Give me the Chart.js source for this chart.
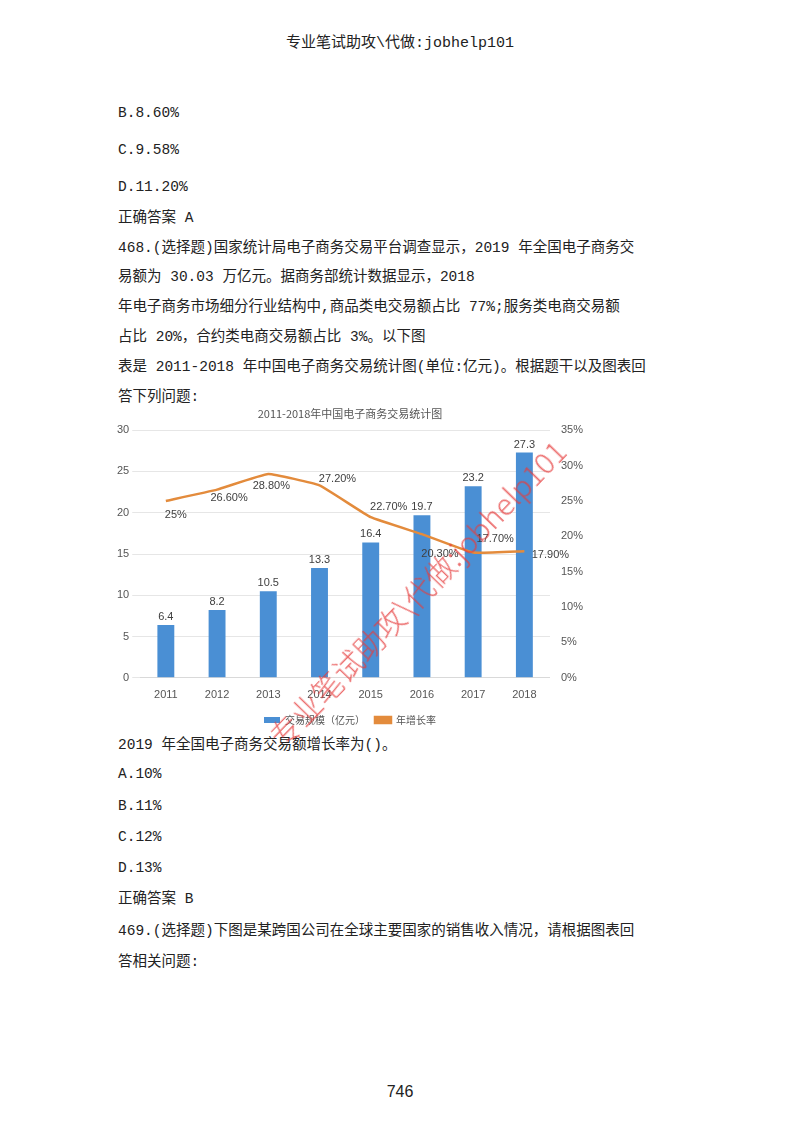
<!DOCTYPE html>
<html>
  <head>
    <meta charset="utf-8">
    <title>2011-2018年中国电子商务交易统计图</title>
    <style>
        body { margin: 0; width: 800px; height: 1132px; background: #fff; position: relative;
               font-family: 'Liberation Mono', 'Noto Sans CJK SC', monospace; color: #222; }
        .ln { position: absolute; left: 118px; font-size: 14.5px; line-height: 20px; white-space: nowrap; }
        #head { position: absolute; top: 30px; width: 800px; text-align: center; font-size: 15px; }
        #page { position: absolute; top: 1083px; width: 800px; text-align: center; font-family: 'Liberation Sans', sans-serif; font-size: 16px; }
        #box { position: absolute; left: 110px; top: 405px; width: 480px; height: 330px; }
        #wm { position: absolute; left: 258px; top: 725px; color: rgba(230,60,60,0.75); font-size: 30px;
              transform: rotate(-46deg); transform-origin: left top; white-space: nowrap; pointer-events: none;
              font-family: 'Noto Sans CJK SC', sans-serif; font-weight: 300; }
    </style>
    <script src="https://cdn.jsdelivr.net/npm/chart.js@4/dist/chart.umd.min.js"></script>
  </head>
  <body>
  <div id="head">专业笔试助攻\代做:jobhelp101</div>
  <div class="ln" style="top:103px">B.8.60%</div>
  <div class="ln" style="top:140px">C.9.58%</div>
  <div class="ln" style="top:177px">D.11.20%</div>
  <div class="ln" style="top:208px">正确答案 A</div>
  <div class="ln" style="top:238px">468.(选择题)国家统计局电子商务交易平台调查显示，2019 年全国电子商务交</div>
  <div class="ln" style="top:267px">易额为 30.03 万亿元。据商务部统计数据显示，2018</div>
  <div class="ln" style="top:297px">年电子商务市场细分行业结构中,商品类电交易额占比 77%;服务类电商交易额</div>
  <div class="ln" style="top:327px">占比 20%，合约类电商交易额占比 3%。以下图</div>
  <div class="ln" style="top:357px">表是 2011-2018 年中国电子商务交易统计图(单位:亿元)。根据题干以及图表回</div>
  <div class="ln" style="top:387px">答下列问题:</div>
  <div id="box"><canvas id="myChart"></canvas></div>
  <div class="ln" style="top:735px">2019 年全国电子商务交易额增长率为()。</div>
  <div class="ln" style="top:764px">A.10%</div>
  <div class="ln" style="top:796px">B.11%</div>
  <div class="ln" style="top:827px">C.12%</div>
  <div class="ln" style="top:858px">D.13%</div>
  <div class="ln" style="top:889px">正确答案 B</div>
  <div class="ln" style="top:921px">469.(选择题)下图是某跨国公司在全球主要国家的销售收入情况，请根据图表回</div>
  <div class="ln" style="top:952px">答相关问题:</div>
  <div id="page">746</div>
  <div id="wm">专业笔试助攻\代做:jobhelp101</div>

  <script type="text/javascript">
    var years = ['2011', '2012', '2013', '2014', '2015', '2016', '2017', '2018'];
    var volume = [6.4, 8.2, 10.5, 13.3, 16.4, 19.7, 23.2, 27.3];
    var growth = [25, 26.6, 28.8, 27.2, 22.7, 20.3, 17.7, 17.9];
    var growthLabels = ['25%', '26.60%', '28.80%', '27.20%', '22.70%', '20.30%', '17.70%', '17.90%'];
    // label offsets around the line points (dx, dy)
    var growthOffsets = [[10, 14], [12, 8], [3, 12], [18, -6], [18, -10], [18, 20], [22, -14], [26, 4]];

    var labelPlugin = {
      id: 'labels',
      afterDatasetsDraw: function (chart) {
        var ctx = chart.ctx;
        ctx.save();
        ctx.font = '11px "Liberation Sans Narrow", "Liberation Sans", sans-serif';
        ctx.fillStyle = '#404040';
        ctx.textAlign = 'center';
        chart.getDatasetMeta(0).data.forEach(function (bar, i) {
          ctx.fillText(String(volume[i]), bar.x, bar.y - 8);
        });
        chart.getDatasetMeta(1).data.forEach(function (pt, i) {
          ctx.fillText(growthLabels[i], pt.x + growthOffsets[i][0], pt.y + growthOffsets[i][1]);
        });
        ctx.restore();
      }
    };

    var ctx = document.getElementById('myChart').getContext('2d');
    var chart = new Chart(ctx, {
        type: 'bar',
        data: {
            labels: years,
            datasets: [{
                  label: '交易规模（亿元）',
                  data: volume,
                  backgroundColor: '#4A8FD4',
                  yAxisID: 'y',
                  barPercentage: 0.6,
                  categoryPercentage: 0.55,
                  order: 2
            }, {
                  type: 'line',
                  label: '年增长率',
                  data: growth,
                  borderColor: '#E38B3C',
                  backgroundColor: '#E38B3C',
                  borderWidth: 2.5,
                  pointRadius: 0,
                  tension: 0.1,
                  yAxisID: 'y1',
                  order: 1
            }]
        },
        options: {
            responsive: true,
            maintainAspectRatio: false,
            animation: false,
            layout: { padding: { left: 4, right: 4, top: 2 } },
            plugins: {
                title: { display: true, text: '2011-2018年中国电子商务交易统计图', color: '#555',
                         font: { size: 11, weight: 'normal', family: '"Noto Sans CJK SC", sans-serif' }, padding: { bottom: 10 } },
                legend: { position: 'bottom', labels: { color: '#555', boxWidth: 16, boxHeight: 6,
                          sort: function (a, b) { return a.datasetIndex - b.datasetIndex; },
                          font: { size: 10, family: '"Noto Sans CJK SC", sans-serif' } } },
                tooltip: { enabled: false }
            },
            scales: {
                x: { grid: { display: false }, border: { color: '#d9d9d9' },
                     ticks: { color: '#555', font: { size: 11 } } },
                y: { min: 0, max: 30, ticks: { stepSize: 5, color: '#555', font: { size: 11 } },
                     grid: { color: '#e6e6e6' }, border: { display: false } },
                y1: { position: 'right', min: 0, max: 35,
                      ticks: { stepSize: 5, color: '#555', font: { size: 11 }, callback: function (v) { return v + '%'; } },
                      grid: { display: false }, border: { display: false } }
            }
        },
        plugins: [labelPlugin]
    });
  </script>
  </body>
</html>
